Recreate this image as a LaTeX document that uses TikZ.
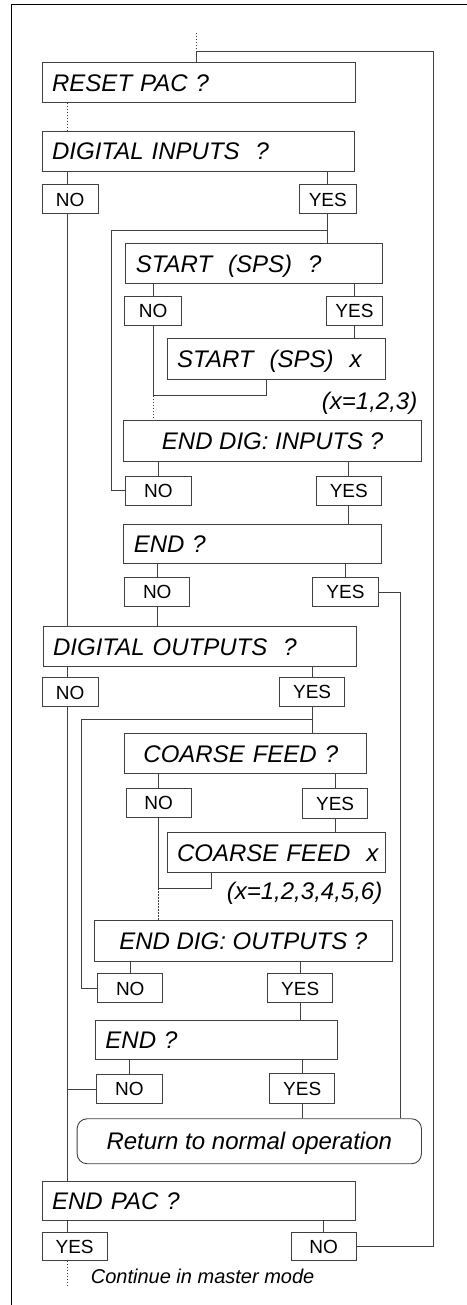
\documentclass[tikz,border=0pt]{standalone}
\usepackage{fontspec}
\setmainfont{Liberation Sans}
\begin{document}
\begin{tikzpicture}[x=1pt,y=-1pt,
  box/.style={draw=black!75, line width=0.9pt, anchor=north west, inner xsep=10pt, inner ysep=0pt,
    font=\fontsize{24}{28}\selectfont\itshape, align=left, text height=17.2pt, text depth=0pt},
  cbox/.style={box, align=center},
  yn/.style={draw=black!75, line width=0.9pt, anchor=north west, inner sep=0pt,
    font=\fontsize{19}{22}\selectfont, text height=13.6pt, text depth=0pt},
  conn/.style={draw=black!75, line width=0.9pt},
  dotconn/.style={draw=black!75, line width=0.9pt, dash pattern=on 1.5pt off 1.5pt},
  note/.style={inner sep=0pt, font=\fontsize{24}{28}\selectfont\itshape, text height=17.2pt, text depth=0pt}
]
\useasboundingbox (0,0) rectangle (466,1305);
% frame
\draw[line width=1pt] (11,1306) -- (11,4.3) -- (467,4.3);

% nodes
\node[box, minimum width=313.3pt, text width=293.3pt, minimum height=39.4pt] (rp) at (41.7,62.3) {RESET PAC ?};
\node[box, minimum width=312.3pt, text width=292.3pt, minimum height=40pt] (di) at (41.7,130.7) {DIGITAL INPUTS\ \ ?};
\node[yn, minimum width=56pt, minimum height=29pt] (dino) at (41.7,184.3) {NO};
\node[yn, minimum width=56.7pt, minimum height=29pt] (diyes) at (299,184.3) {YES};
\node[box, minimum width=257pt, text width=237pt, minimum height=39.4pt] (st) at (125.3,243.3) {START\ \ (SPS)\ \ ?};
\node[yn, minimum width=56.7pt, minimum height=29pt] (stno) at (124.3,296) {NO};
\node[yn, minimum width=56.6pt, minimum height=29pt] (styes) at (325.7,296) {YES};
\node[box, minimum width=218.3pt, text width=198.3pt, minimum height=40.7pt] (stx) at (166.7,338.3) {START\ \ (SPS)\ \ x};
\node[note, anchor=east] (xa) at (417.5,400.5) {(x=1,2,3)};
\node[cbox, minimum width=297.7pt, minimum height=40.7pt] (edi) at (123.3,420) {END DIG: INPUTS ?};
\node[yn, minimum width=65.4pt, minimum height=29.3pt] (edino) at (125.3,475.7) {NO};
\node[yn, minimum width=65.3pt, minimum height=29.3pt] (ediyes) at (315.7,475.7) {YES};
\node[box, minimum width=257.7pt, text width=237.7pt, minimum height=39.3pt] (endA) at (123.3,524) {END ?};
\node[yn, minimum width=65pt, minimum height=28.8pt] (endAno) at (124.3,576.7) {NO};
\node[yn, minimum width=65.4pt, minimum height=29pt] (endAyes) at (312.3,577) {YES};
\node[box, minimum width=313.3pt, text width=293.3pt, minimum height=40pt] (do) at (42.7,626) {DIGITAL OUTPUTS\ \ ?};
\node[yn, minimum width=56pt, minimum height=29pt] (dono) at (41.7,677.3) {NO};
\node[yn, minimum width=65.3pt, minimum height=29.3pt] (doyes) at (279,676.7) {YES};
\node[box, inner xsep=18.7pt, minimum width=241.7pt, text width=204.3pt, minimum height=40pt] (cf) at (124.3,733.3) {COARSE FEED ?};
\node[yn, minimum width=65pt, minimum height=29.3pt] (cfno) at (125.7,787.7) {NO};
\node[yn, minimum width=64.7pt, minimum height=29.4pt] (cfyes) at (302.3,788.3) {YES};
\node[box, inner xsep=10pt, minimum width=218.3pt, text width=198.3pt, minimum height=40.6pt] (cfx) at (166.7,831.7) {\mbox{COARSE FEED\ \ x}};
\node[note, anchor=east] (xb) at (382.5,891.2) {(x=1,2,3,4,5,6)};
\node[cbox, minimum width=297.7pt, minimum height=40.7pt] (edo) at (94,920) {END DIG: OUTPUTS ?};
\node[yn, minimum width=65pt, minimum height=29pt] (edono) at (97.3,973.3) {NO};
\node[yn, minimum width=65pt, minimum height=29pt] (edoyes) at (267.3,973.3) {YES};
\node[box, minimum width=241.7pt, text width=221.7pt, minimum height=39.3pt] (endB) at (95,1020) {END ?};
\node[yn, minimum width=65.4pt, minimum height=29.3pt] (endBno) at (96.3,1074) {NO};
\node[yn, minimum width=65pt, minimum height=29.4pt] (endByes) at (269.3,1073.3) {YES};
\node[cbox, rounded corners=10pt, minimum width=344.3pt, minimum height=45pt] (ret) at (76.7,1118.3) {Return to normal operation};
\node[box, minimum width=313.3pt, text width=293.3pt, minimum height=39.3pt] (ep) at (41.7,1180.7) {END PAC ?};
\node[yn, minimum width=65pt, minimum height=28.3pt] (epyes) at (41.7,1231.7) {YES};
\node[yn, minimum width=65pt, minimum height=28.3pt] (epno) at (290.7,1231.7) {NO};
\node[inner sep=0pt, anchor=west, font=\fontsize{20}{24}\selectfont\itshape, text height=14.3pt, text depth=0pt] (cont) at (90.7,1276.7) {Continue in master mode};

% coordinates
\coordinate (tp) at (196,33);
\coordinate (j0) at (196,51.7);
\coordinate (loopc) at (433.3,51.7);
\coordinate (tA) at (67.7,0);
\coordinate (b1) at (111,230);
\coordinate (m1) at (266.7,395.7);
\coordinate (rx) at (400,0);
\coordinate (b2) at (81.7,719.3);
\coordinate (m2) at (211.7,888.3);
\coordinate (bot) at (67.7,1286.7);

% connectors
\draw[dotconn] (tp) -- (j0);
\draw[conn] (j0) -- (j0 |- rp.north);
\draw[conn] (epno.east) -| (loopc) -- (j0);
\draw[dotconn] (rp.south -| tA) -- (di.north -| tA);
\draw[conn] (di.south -| tA) -- (dino.north -| tA);
\draw[conn] (di.south -| diyes) -- (diyes.north);
\draw[conn] (dino.south -| tA) -- (do.north -| tA);
\draw[conn] (diyes.south) -- (diyes |- st.north);
\draw[conn] (b1 -| diyes) -- (b1) -- (b1 |- edino.west) -- (edino.west);
\draw[conn] (st.south -| stno) -- (stno.north);
\draw[conn] (st.south -| styes) -- (styes.north);
\draw[conn] (styes.south) -- (styes |- stx.north);
\draw[conn] (m1 |- stx.south) -- (m1) -- (m1 -| stno);
\draw[conn] (stno.south) -- (m1 -| stno);
\draw[dotconn] (m1 -| stno) -- (stno |- edi.north);
\draw[conn] (edi.south -| edino) -- (edino.north);
\draw[conn] (edi.south -| ediyes) -- (ediyes.north);
\draw[conn] (ediyes.south) -- (ediyes |- endA.north);
\draw[conn] (endA.south -| endAno) -- (endAno.north);
\draw[conn] (endA.south -| endAyes) -- (endAyes.north);
\draw[conn] (endAno.south) -- (endAno |- do.north);
\draw[conn] (endAyes.east) -| (rx |- ret.north);
\draw[conn] (do.south -| tA) -- (dono.north -| tA);
\draw[conn] (do.south -| doyes) -- (doyes.north);
\draw[conn] (dono.south -| tA) -- (ep.north -| tA);
\draw[conn] (doyes.south) -- (doyes |- cf.north);
\draw[conn] (b2 -| doyes) -- (b2) -- (b2 |- edono.west) -- (edono.west);
\draw[conn] (cf.south -| cfno) -- (cfno.north);
\draw[conn] (cf.south -| cfyes) -- (cfyes.north);
\draw[conn] (cfyes.south) -- (cfyes |- cfx.north);
\draw[conn] (m2 |- cfx.south) -- (m2) -- (m2 -| cfno);
\draw[conn] (cfno.south) -- (m2 -| cfno);
\draw[dotconn] (m2 -| cfno) -- (cfno |- edo.north);
\draw[conn] (edo.south -| edono) -- (edono.north);
\draw[conn] (edo.south -| edoyes) -- (edoyes.north);
\draw[conn] (edoyes.south) -- (edoyes |- endB.north);
\draw[conn] (endB.south -| endBno) -- (endBno.north);
\draw[conn] (endB.south -| endByes) -- (endByes.north);
\draw[conn] (endBno.west) -- (endBno.west -| tA);
\draw[conn] (endByes.south) -- (endByes |- ret.north);
\draw[conn] (ep.south -| tA) -- (epyes.north -| tA);
\draw[conn] (ep.south -| epno) -- (epno.north);
\draw[dotconn] (epyes.south -| tA) -- (bot);
\end{tikzpicture}
\end{document}
